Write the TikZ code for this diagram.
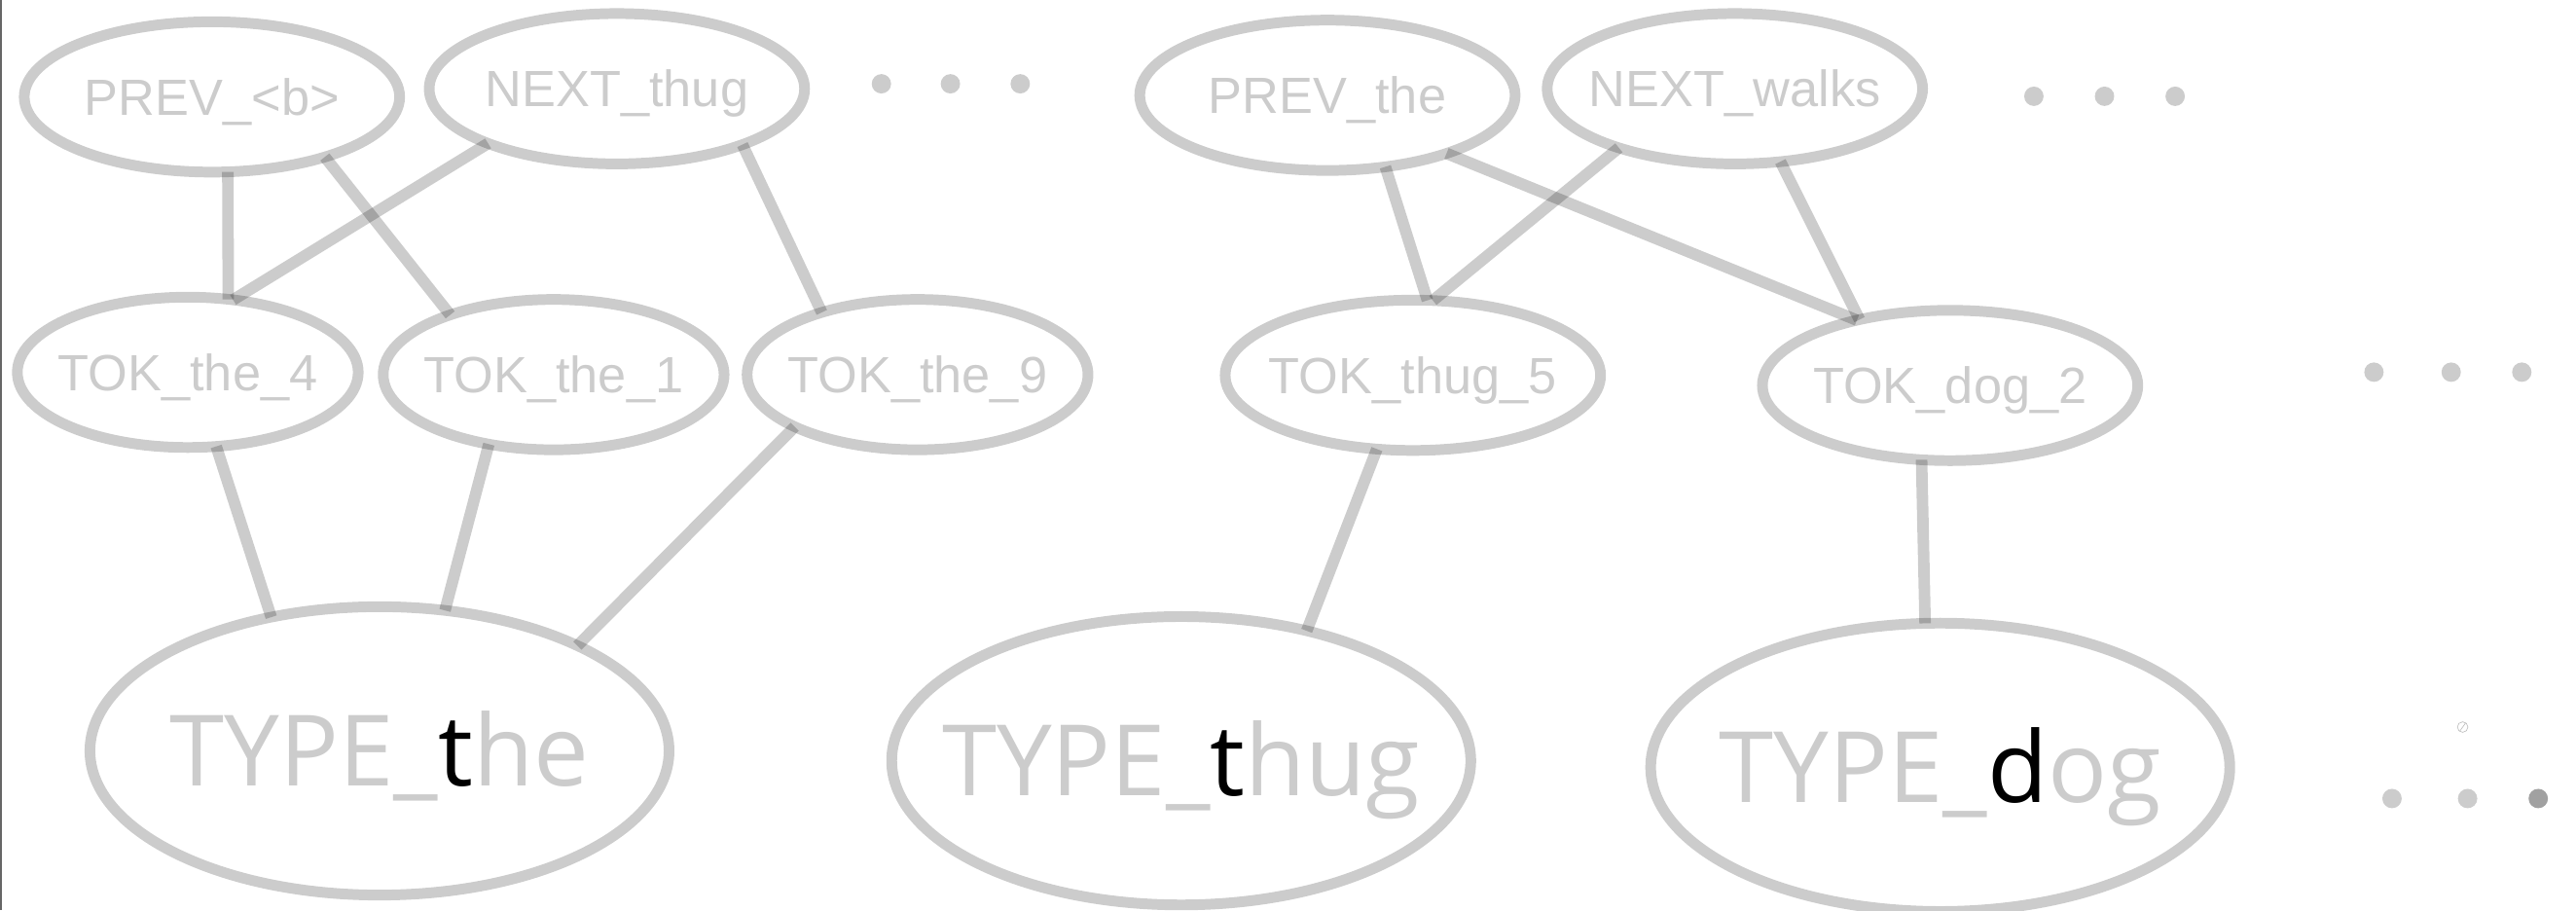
\documentclass[tikz,border=0pt]{standalone}
\usepackage{fontspec}
\setmainfont{Liberation Sans}
\newfontfamily\typefont{Open Sans}
\usetikzlibrary{shapes.geometric}

\tikzset{
  feat/.style={ellipse, draw=black!20, line width=6.5pt, inner sep=0pt, outer sep=0pt,
    minimum width=228.5pt, minimum height=91.5pt, text=black!20,
    font=\fontsize{31}{37}\selectfont, text height=22pt, text depth=0pt},
  tok/.style={feat, minimum width=207.5pt},
  typ/.style={feat, minimum width=352.5pt, minimum height=175.5pt,
    font=\typefont\fontsize{60}{72}\selectfont, text height=43pt},
  link/.style={draw=black, draw opacity=0.2, line width=7pt},
  dot/.style={fill=black!20},
}
\newcommand{\lbl}[1]{\makebox[0pt]{#1}}

\begin{document}
\begin{tikzpicture}[x=1pt,y=-1pt]
\useasboundingbox (0,0) rectangle (1568,554);

% frame line on the left
\draw[black!60, line width=1.4pt] (0.7,0) -- (0.7,554);

% context features
\node[feat] (prevb)     at (129,59)    {\lbl{PREV\_<b>}};
\node[feat] (nextthug)  at (375.5,54)  {\lbl{NEXT\_thug}};
\node[feat] (prevthe)   at (808,58)    {\lbl{PREV\_the}};
\node[feat] (nextwalks) at (1056,54)   {\lbl{NEXT\_walks}};

% tokens
\node[tok]  (tok4)   at (114.3,226.6) {\lbl{TOK\_the\_4}};
\node[tok]  (tok1)   at (337,228)     {\lbl{TOK\_the\_1}};
\node[tok]  (tok9)   at (558.5,228)   {\lbl{TOK\_the\_9}};
\node[feat] (tok5)   at (860,228.4)   {\lbl{TOK\_thug\_5}};
\node[feat] (tokdog) at (1187,234.6)  {\lbl{TOK\_dog\_2}};

% types
\node[typ] (typethe)  at (231,457) {\lbl{TYPE\_{\color{black}t}he}};
\node[typ] (typethug) at (719,463) {\lbl{TYPE\_{\color{black}t}hug}};
\node[typ] (typedog)  at (1181,467) {\lbl{TYPE\_{\color{black}d}og}};

% links between layers
\draw[link] (prevb.-78) -- (tok4.61);
\draw[link] (prevb.-28) -- (tok1.150);
\draw[link] (nextthug.-157) -- (tok4.58);
\draw[link] (nextthug.-24) -- (tok9.147);
\draw[link] (tok4.-69) -- (typethe.129);
\draw[link] (tok1.-133) -- (typethe.65);
\draw[link] (tok9.-157) -- (typethe.28);
\draw[link] (prevthe.-51) -- (tok5.79);
\draw[link] (prevthe.-26) -- (tokdog.145);
\draw[link] (nextwalks.-153) -- (tok5.75);
\draw[link] (nextwalks.-58) -- (tokdog.144);
\draw[link] (tok5.-116) -- (typethug.46);
\draw[link] (tokdog.-111) -- (typedog.96);

% ellipsis dots
\foreach \x in {536.5,578.5,621} \fill[dot] (\x,51) circle[radius=5.9pt];
\foreach \x in {1238,1281,1324} \fill[dot] (\x,58.6) circle[radius=5.9pt];
\foreach \x in {1445,1492,1535} \fill[dot] (\x,226.5) circle[radius=5.9pt];
\foreach \x in {1456,1502} \fill[dot] (\x,486) circle[radius=5.9pt];
\fill[black!37] (1545,486) circle[radius=5.9pt];

% small stray mark
\draw[black!25, line width=0.4pt] (1499,442.5) circle[radius=3.2pt];
\draw[black!25, line width=0.4pt] (1497.2,445) -- (1500.8,440);
\end{tikzpicture}
\end{document}
